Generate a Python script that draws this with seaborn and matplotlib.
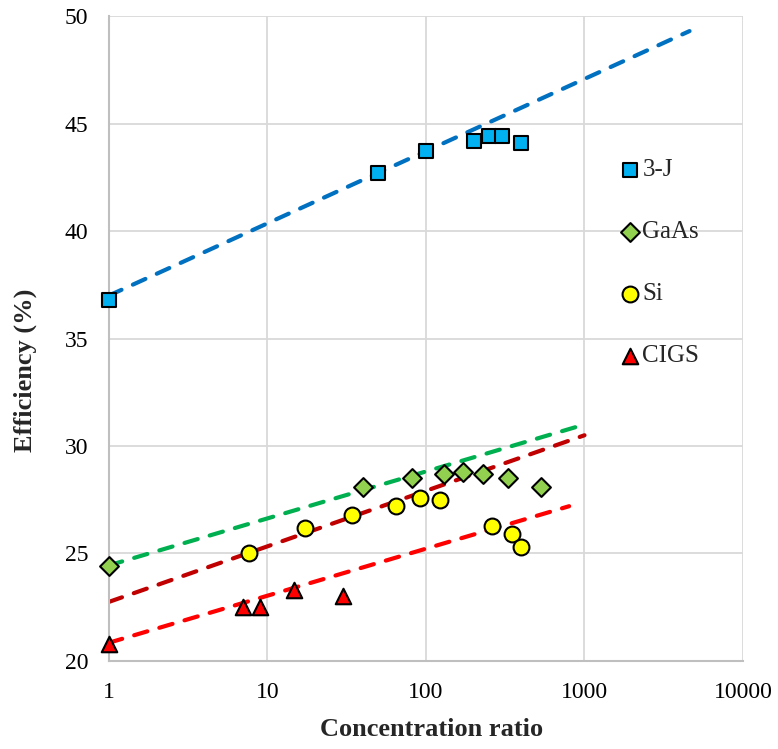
import numpy as np
import pandas as pd
import matplotlib
matplotlib.use("Agg")
import matplotlib.pyplot as plt
import seaborn as sns
from matplotlib.ticker import FixedLocator, FuncFormatter, LogLocator, MultipleLocator, NullFormatter

# ---- measured efficiencies vs. concentration ratio ----
x_3j = [1, 50, 100, 200, 250, 300, 400]
eff_3j = [36.8, 42.7, 43.7, 44.2, 44.4, 44.4, 44.1]

x_gaas = [1, 40, 82, 130, 170, 230, 330, 530]
eff_gaas = [24.4, 28.1, 28.5, 28.7, 28.8, 28.7, 28.5, 28.1]

x_si = [7.6, 17.3, 34, 65, 92, 122, 260, 350, 400]
eff_si = [25.0, 26.2, 26.8, 27.2, 27.6, 27.5, 26.3, 25.9, 25.3]

x_cigs = [1, 7, 9, 14.7, 30]
eff_cigs = [20.8, 22.5, 22.5, 23.3, 23.0]

# ---- logarithmic trend lines (straight on a log-x axis): end points ----
trend_x_3j = [1, 4600]
trend_y_3j = [37.0, 49.3]
trend_x_gaas = [1, 1000]
trend_y_gaas = [24.45, 31.0]
trend_x_si = [1, 1000]
trend_y_si = [22.75, 30.5]
trend_x_cigs = [1, 800]
trend_y_cigs = [20.85, 27.2]

x_ticks = [1, 10, 100, 1000, 10000]
y_ticks = [20, 25, 30, 35, 40, 45, 50]

sns.set_theme(style="white")
plt.rcParams["font.family"] = ["Liberation Serif", "DejaVu Serif"]

fig = plt.figure(figsize=(7.78, 7.49), dpi=100)
ax = fig.add_axes([0.1401, 0.1175, 0.8149, 0.8611])
ax.set_xscale("log")

trends = [
    (trend_x_3j, trend_y_3j, "#0070C0"),
    (trend_x_gaas, trend_y_gaas, "#00B050"),
    (trend_x_si, trend_y_si, "#C00000"),
    (trend_x_cigs, trend_y_cigs, "#FF0000"),
]
for tx, ty, col in trends:
    sns.lineplot(x=tx, y=ty, color=col, ax=ax, zorder=2, linewidth=3.0, legend=False)
for ln in ax.lines:
    ln.set_dashes((3.3, 3.0))
    ln.set_dash_capstyle("round")

series = [
    ("3-J", x_3j, eff_3j, "s", "#00B0F0", 100),
    ("GaAs", x_gaas, eff_gaas, "D", "#92D050", 92),
    ("Si", x_si, eff_si, "o", "#FFFF00", 130),
    ("CIGS", x_cigs, eff_cigs, "^", "#FF0000", 125),
]
for name, xs, ys, mk, col, size in series:
    sns.scatterplot(x=xs, y=ys, marker=mk, color=col, s=size, edgecolor="black",
                    linewidth=1.5, ax=ax, label=name, zorder=3, clip_on=False)

ax.set_xlim(1, 10000)
ax.set_ylim(20, 50)

ax.xaxis.set_major_locator(FixedLocator(x_ticks))
ax.xaxis.set_major_formatter(FuncFormatter(lambda v, p: f"{v:.0f}"))
ax.xaxis.set_minor_locator(LogLocator(base=10, subs=np.arange(2, 10), numticks=20))
ax.xaxis.set_minor_formatter(NullFormatter())
ax.yaxis.set_major_locator(FixedLocator(y_ticks))
ax.yaxis.set_minor_locator(MultipleLocator(1))

grid_col = "#D9D9D9"
axis_col = "#BFBFBF"
ax.grid(True, which="major", color=grid_col, linewidth=1.3)
ax.set_axisbelow(True)
for side in ["top", "right"]:
    ax.spines[side].set_visible(False)
for side in ["left", "bottom"]:
    ax.spines[side].set_color(axis_col)
    ax.spines[side].set_linewidth(1.5)

ax.tick_params(axis="both", which="major", direction="in", length=0,
               labelsize=17, pad=15, labelcolor="black")
ax.tick_params(axis="both", which="minor", direction="in", length=4,
               width=1.0, color=axis_col)

ax.set_xlabel("Concentration ratio", fontsize=19, fontweight="bold")
ax.set_ylabel("Efficiency (%)", fontsize=19, fontweight="bold")
ax.xaxis.set_label_coords(0.508, -0.089)
ax.yaxis.set_label_coords(-0.114, 0.451)

ax.legend(loc="center left", bbox_to_anchor=(0.806, 0.617), frameon=False,
          fontsize=18, labelspacing=1.58, handletextpad=0.1, handlelength=0.8,
          borderpad=0, borderaxespad=0, scatterpoints=1)

fig.savefig("out.png", dpi=100)
